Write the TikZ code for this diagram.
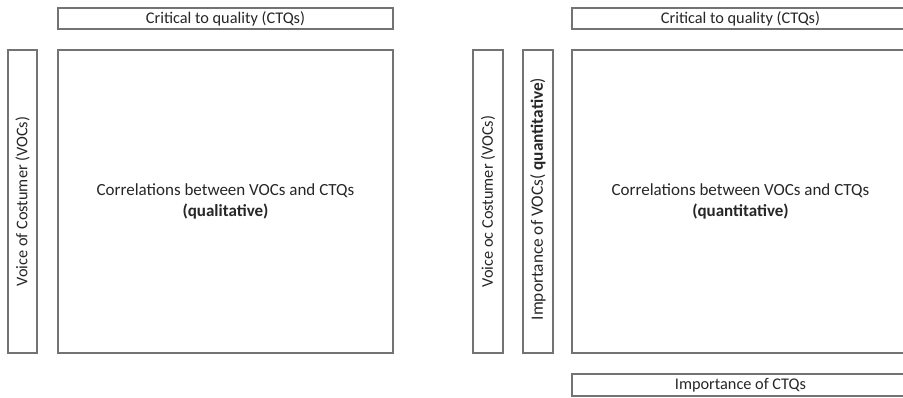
\documentclass[tikz,border=0pt]{standalone}
\usepackage{fontspec}
\setmainfont{Carlito}
\begin{document}
\begin{tikzpicture}[x=1pt,y=-1pt,
  box/.style={draw=black!55,line width=1.3pt},
  lbl/.style={text=black!85,font=\fontsize{16.3}{20}\selectfont,align=center,inner sep=0pt},
  big/.style={lbl,font=\fontsize{17}{21}\selectfont}]
\useasboundingbox (0,0) rectangle (903,397);
\clip (0,0) rectangle (903,397);
% left diagram
\draw[box] (58,8) rectangle (393,29);
\node[lbl] (lctq) at (225.5,18.5) {Critical to quality (CTQs)};
\draw[box] (8,50) rectangle (37,353);
\node[lbl,rotate=90] (lvoc) at (22.5,201.5) {Voice of Costumer (VOCs)};
\draw[box] (58,50) rectangle (393,353);
\node[big] (lmain) at (225.5,201.5) {Correlations between VOCs and CTQs\\\textbf{(qualitative)}};
% right diagram
\draw[box] (572,8) rectangle (909,29);
\node[lbl] (rctq) at (740.5,18.5) {Critical to quality (CTQs)};
\draw[box] (473,50) rectangle (503,353);
\node[lbl,rotate=90] (rvoc) at (488,201.5) {Voice oc Costumer (VOCs)};
\draw[box] (523,50) rectangle (553,353);
\node[lbl,rotate=90,font=\fontsize{17.3}{20}\selectfont] (rimp) at (538,199) {Importance of VOCs( \textbf{quantitative})};
\draw[box] (572,50) rectangle (909,353);
\node[big] (rmain) at (740.5,201.5) {Correlations between VOCs and CTQs\\\textbf{(quantitative)}};
\draw[box] (572,374) rectangle (909,396);
\node[lbl] (rictq) at (740.5,385) {Importance of CTQs};
\end{tikzpicture}
\end{document}
